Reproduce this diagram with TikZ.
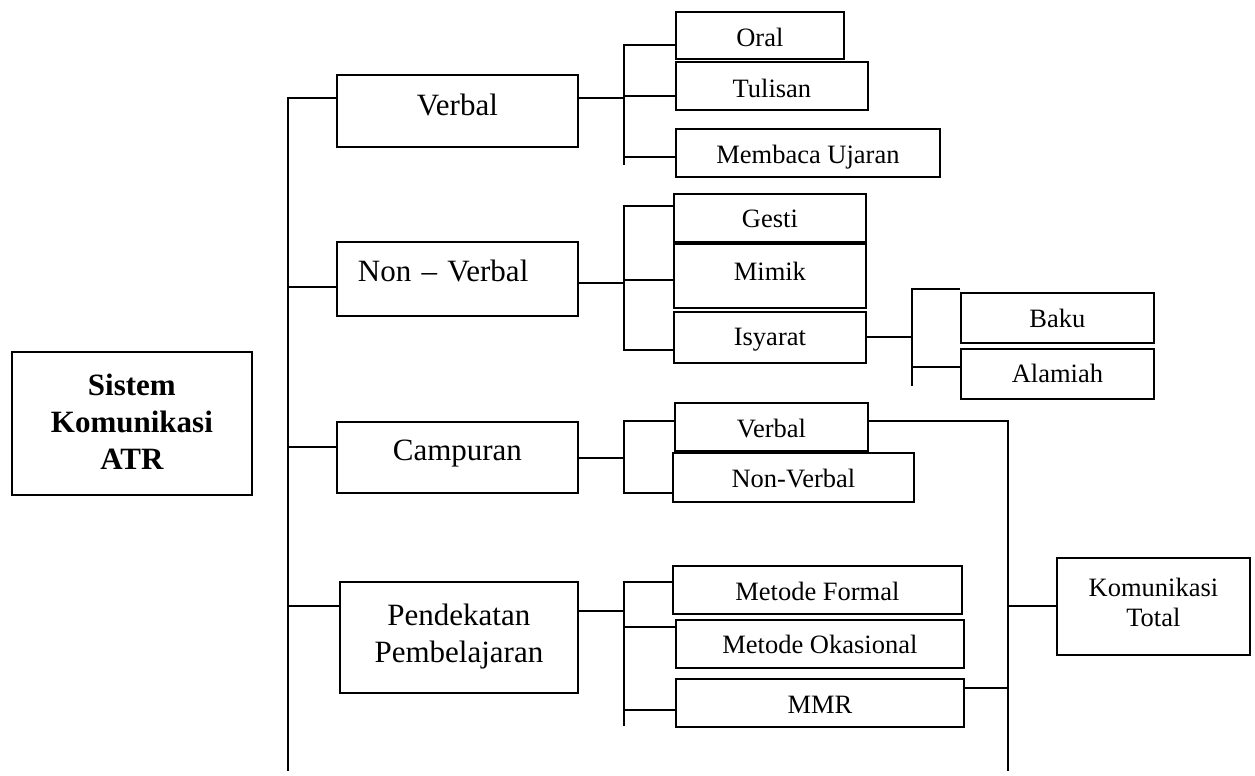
\documentclass[tikz,border=0pt]{standalone}
\usepackage{fontspec}
\setmainfont{Liberation Serif}
\tikzset{
  conn/.style={line width=1.8pt, line join=miter},
  bx/.style={draw, line width=1.8pt, anchor=north west, inner xsep=0pt, inner ysep=0pt,
             font=\fontsize{26.5}{30}\selectfont},
  bigbx/.style={bx, font=\fontsize{31}{36.7}\selectfont}
}
\newcommand\stack[1]{\begin{tabular}[t]{@{}c@{}}#1\end{tabular}}
\begin{document}
\begin{tikzpicture}[x=1pt,y=-1pt]
\useasboundingbox (0,0) rectangle (1255,776);

% root
\node[bigbx, font=\fontsize{31}{36.7}\selectfont\bfseries, minimum width=240pt, text height=44pt, text depth=99pt] (root) at (11,351) {\stack{Sistem\\Komunikasi\\ATR}};

% level 1
\node[bigbx, minimum width=241pt, text height=41pt, text depth=31pt] (V1) at (336,74) {Verbal};
\node[bigbx, inner xsep=21pt, text width=199pt, align=left, text height=40pt, text depth=34pt] (NV) at (336,241) {Non -- Verbal};
\node[bigbx, minimum width=241pt, text height=39pt, text depth=32pt] (C) at (336,421) {Campuran};
\node[bigbx, minimum width=238pt, text height=44pt, text depth=67pt] (P) at (339,581) {\stack{Pendekatan\\Pembelajaran}};

% level 2
\node[bx, minimum width=168pt, text height=35pt, text depth=12pt] (oral) at (675,11) {Oral};
\node[bx, minimum width=192pt, text height=36pt, text depth=12pt] (tulisan) at (675,61) {Tulisan};
\node[bx, minimum width=264pt, text height=35pt, text depth=13pt] (membaca) at (675,128) {Membaca Ujaran};
\node[bx, minimum width=192pt, text height=34pt, text depth=14pt] (gesti) at (673,193) {Gesti};
\node[bx, minimum width=192pt, text height=37pt, text depth=27pt] (mimik) at (673,243) {Mimik};
\node[bx, minimum width=192pt, text height=34pt, text depth=17pt] (isyarat) at (673,311) {Isyarat};
\node[bx, minimum width=193pt, text height=35pt, text depth=15pt] (baku) at (960,292) {Baku};
\node[bx, minimum width=193pt, text height=34pt, text depth=16pt] (alamiah) at (960,348) {Alamiah};
\node[bx, minimum width=193pt, text height=35pt, text depth=13pt] (cverbal) at (674,402) {Verbal};
\node[bx, minimum width=241pt, text height=35pt, text depth=14pt] (cnonverbal) at (672,452) {Non-Verbal};
\node[bx, minimum width=289pt, text height=35pt, text depth=13pt] (formal) at (672,565) {Metode Formal};
\node[bx, minimum width=288pt, text height=34pt, text depth=14pt] (okasional) at (675,619) {Metode Okasional};
\node[bx, minimum width=288pt, text height=35pt, text depth=13pt] (mmr) at (675,678) {MMR};
\node[bx, minimum width=193pt, text height=39pt, text depth=58pt] (total) at (1056,557) {\stack{Komunikasi\\Total}};

% main bus
\coordinate (mTop) at (288,98);
\coordinate (mBot) at (288,771);
\coordinate (jNV) at (288,287);
\coordinate (jC) at (288,447);
\coordinate (jP) at (288,606);
\draw[conn] (mTop -| V1.west) -- (mTop) -- (mBot);
\draw[conn] (jNV) -- (jNV -| NV.west);
\draw[conn] (jC) -- (jC -| C.west);
\draw[conn] (jP) -- (jP -| P.west);

% Verbal bus
\coordinate (vA) at (624,45);
\coordinate (vB) at (624,96);
\coordinate (vC) at (624,157);
\coordinate (vD) at (624,165);
\coordinate (kV) at (624,98);
\draw[conn] (vA -| oral.west) -- (vA) -- (vD);
\draw[conn] (vB) -- (vB -| tulisan.west);
\draw[conn] (vC) -- (vC -| membaca.west);
\draw[conn] (kV -| V1.east) -- (kV);

% Non-Verbal bus
\coordinate (nA) at (624,206);
\coordinate (nB) at (624,280);
\coordinate (nD) at (624,350);
\coordinate (kN) at (624,283);
\draw[conn] (nA -| gesti.west) -- (nA) -- (nD) -- (nD -| isyarat.west);
\draw[conn] (nB) -- (nB -| mimik.west);
\draw[conn] (kN -| NV.east) -- (kN);

% Isyarat bus
\coordinate (kI) at (912,337);
\coordinate (iA) at (912,289);
\coordinate (iB) at (912,367);
\coordinate (iD) at (912,386);
\draw[conn] (kI -| isyarat.east) -- (kI);
\draw[conn] (iA -| baku.west) -- (iA) -- (iD);
\draw[conn] (iB) -- (iB -| alamiah.west);

% Campuran bus
\coordinate (cA) at (624,421);
\coordinate (cD) at (624,493);
\coordinate (kC) at (624,458);
\draw[conn] (cA -| cverbal.west) -- (cA) -- (cD) -- (cD -| cnonverbal.west);
\draw[conn] (kC -| C.east) -- (kC);

% Pendekatan bus
\coordinate (pA) at (624,582);
\coordinate (pB) at (624,627);
\coordinate (pC) at (624,710);
\coordinate (pD) at (624,726);
\coordinate (kP) at (624,611);
\draw[conn] (pA -| formal.west) -- (pA) -- (pD);
\draw[conn] (pB) -- (pB -| okasional.west);
\draw[conn] (pC) -- (pC -| mmr.west);
\draw[conn] (kP -| P.east) -- (kP);

% Komunikasi Total bus
\coordinate (tA) at (1008,421);
\coordinate (tB) at (1008,606);
\coordinate (tC) at (1008,688);
\coordinate (tD) at (1008,771);
\draw[conn] (tA -| cverbal.east) -- (tA) -- (tD);
\draw[conn] (tB) -- (tB -| total.west);
\draw[conn] (tC -| mmr.east) -- (tC);
\end{tikzpicture}
\end{document}
